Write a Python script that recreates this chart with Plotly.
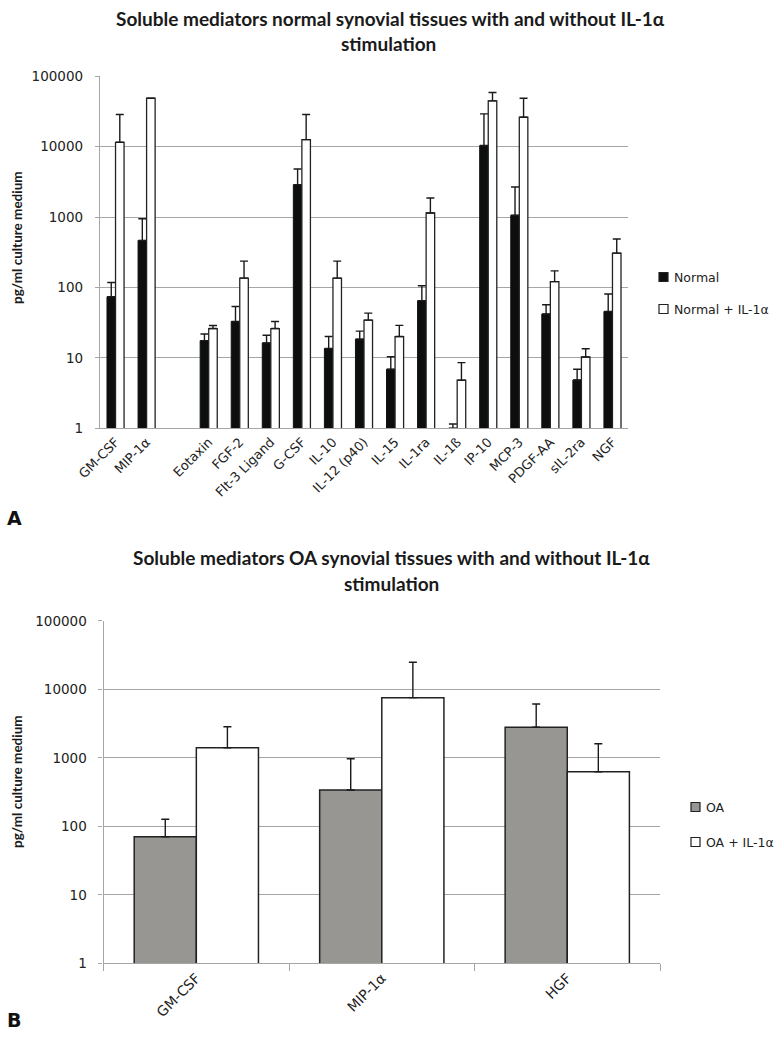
import plotly.graph_objects as go

# ---------------- data ----------------
categories_a = ["GM-CSF", "MIP-1α", " ", "Eotaxin", "FGF-2", "Flt-3 Ligand", "G-CSF",
                "IL-10", "IL-12 (p40)", "IL-15", "IL-1ra", "IL-1ß", "IP-10", "MCP-3",
                "PDGF-AA", "sIL-2ra", "NGF"]
normal = [74, 466, None, 17.6, 32.9, 16.3, 2890, 13.6, 18.5, 6.9, 65, 1.0, 10400, 1060,
          42, 4.85, 45.6]
normal_err_top = [118, 948, None, 21.9, 53.7, 21, 4830, 20.1, 24, 10.4, 106, 1.15, 29300,
                  2680, 57, 6.9, 81]
normal_il1 = [11550, 48800, None, 26.1, 136, 26.1, 12600, 136, 34.4, 20.1, 1143, 4.82,
              44800, 26200, 121, 10.3, 308]
normal_il1_err_top = [28600, 48800, None, 28.8, 237, 32.9, 28600, 237, 43.3, 29, 1870,
                      8.57, 58800, 48800, 172, 13.5, 488]

categories_b = ["GM-CSF", "MIP-1α", "HGF"]
oa = [70.5, 339, 2790]
oa_err_top = [127, 970, 6100]
oa_il1 = [1405, 7550, 627]
oa_il1_err_top = [2845, 24800, 1606]

y_tickvals = [1, 10, 100, 1000, 10000, 100000]
y_ticktext = ["1", "10", "100", "1000", "10000", "100000"]

W, H = 784, 1039


def px(x):
    return x / W


def py(y):
    return 1 - y / H


def plus(vals, tops):
    return [None if v is None else (t - v) for v, t in zip(vals, tops)]


def zeros(vals):
    return [None if v is None else 0 for v in vals]


err_style = dict(color="#1a1a1a", thickness=1.4, width=4)

WA = 0.275   # bar width chart A (fraction of category slot)
WB = 0.335   # bar width chart B

fig = go.Figure()

# ---------------- chart A ----------------
fig.add_trace(go.Bar(
    x=categories_a, y=normal, name="Normal", width=WA, offset=-WA,
    marker=dict(color="#0d0f0f", line=dict(color="#111", width=1)),
    error_y=dict(type="data", symmetric=False, array=plus(normal, normal_err_top),
                 arrayminus=zeros(normal), **err_style),
    xaxis="x", yaxis="y"))
fig.add_trace(go.Bar(
    x=categories_a, y=normal_il1, name="Normal + IL-1α", width=WA, offset=0,
    marker=dict(color="white", line=dict(color="#222", width=1.3)),
    error_y=dict(type="data", symmetric=False, array=plus(normal_il1, normal_il1_err_top),
                 arrayminus=zeros(normal_il1), **err_style),
    xaxis="x", yaxis="y"))

# ---------------- chart B ----------------
fig.add_trace(go.Bar(
    x=categories_b, y=oa, name="OA", width=WB, offset=-WB,
    marker=dict(color="#979692", line=dict(color="#222", width=1.5)),
    error_y=dict(type="data", symmetric=False, array=plus(oa, oa_err_top),
                 arrayminus=zeros(oa), **err_style),
    xaxis="x2", yaxis="y2"))
fig.add_trace(go.Bar(
    x=categories_b, y=oa_il1, name="OA + IL-1α", width=WB, offset=0,
    marker=dict(color="white", line=dict(color="#222", width=1.5)),
    error_y=dict(type="data", symmetric=False, array=plus(oa_il1, oa_il1_err_top),
                 arrayminus=zeros(oa_il1), **err_style),
    xaxis="x2", yaxis="y2"))

yaxis_common = dict(type="log", range=[0, 5], tickvals=y_tickvals, ticktext=y_ticktext,
                    showgrid=True, gridcolor="#a6a6a6", gridwidth=1.3,
                    showline=True, linecolor="#a6a6a6", linewidth=1.3,
                    ticks="outside", ticklen=4, tickcolor="#a6a6a6",
                    ticklabelstandoff=9,
                    tickfont=dict(family="DejaVu Sans", size=13.5, color="#222"),
                    zeroline=False, fixedrange=True, automargin=False)

fig.update_layout(
    width=W, height=H,
    margin=dict(l=0, r=0, t=0, b=0),
    paper_bgcolor="white", plot_bgcolor="white",
    barmode="overlay",
    showlegend=False,
    xaxis=dict(domain=[px(100), px(628)], anchor="y", type="category",
               categoryorder="array", categoryarray=categories_a,
               tickangle=-45, tickfont=dict(family="DejaVu Sans", size=13, color="#222"),
               showline=True, linecolor="#a6a6a6", linewidth=1.3, ticks="",
               showgrid=False, automargin=False, fixedrange=True),
    yaxis=dict(domain=[py(428.3), py(76.3)], anchor="x", **yaxis_common),
    xaxis2=dict(domain=[px(103.6), px(660)], anchor="y2", type="category",
                categoryorder="array", categoryarray=categories_b,
                tickangle=-45, tickfont=dict(family="DejaVu Sans", size=14, color="#222"),
                showline=True, linecolor="#a6a6a6", linewidth=1.3,
                ticks="outside", tickson="boundaries", ticklen=7, tickcolor="#a6a6a6",
                showgrid=False, automargin=False, fixedrange=True),
    yaxis2=dict(domain=[py(963.3), py(620.8)], anchor="x2", **yaxis_common),
)

title_font = dict(family="Lato", size=19, color="#1a1a1a")
legend_font = dict(family="DejaVu Sans", size=12.5, color="#222")
ann = [
    dict(text="<b>Soluble mediators normal synovial tissues with and without IL-1α</b>",
         x=px(390), y=py(18), font=title_font),
    dict(text="<b>stimulation</b>", x=px(388), y=py(44), font=title_font),
    dict(text="<b>Soluble mediators OA synovial tissues with and without IL-1α</b>",
         x=px(391), y=py(557), font=title_font),
    dict(text="<b>stimulation</b>", x=px(391), y=py(583), font=title_font),
    dict(text="<b>pg/ml culture medium</b>", x=px(17), y=py(238), textangle=-90,
         font=dict(family="Lato", size=13.5, color="#1a1a1a")),
    dict(text="<b>pg/ml culture medium</b>", x=px(17), y=py(782), textangle=-90,
         font=dict(family="Lato", size=13.5, color="#1a1a1a")),
    dict(text="<b>A</b>", x=px(14), y=py(518),
         font=dict(family="DejaVu Sans", size=19, color="#111")),
    dict(text="<b>B</b>", x=px(14), y=py(1020),
         font=dict(family="DejaVu Sans", size=19, color="#111")),
    # legends
    dict(text="Normal", x=px(672), y=py(277), xanchor="left", font=legend_font),
    dict(text="Normal + IL-1α", x=px(672), y=py(309), xanchor="left", font=legend_font),
    dict(text="OA", x=px(704), y=py(807), xanchor="left", font=legend_font),
    dict(text="OA + IL-1α", x=px(704), y=py(842), xanchor="left", font=legend_font),
]
for a in ann:
    a.setdefault("xref", "paper")
    a.setdefault("yref", "paper")
    a.setdefault("showarrow", False)
    a.setdefault("yanchor", "middle")
    a.setdefault("xanchor", "center")
fig.update_layout(annotations=ann)


def swatch(x0, yc, fill, size=9):
    return dict(type="rect", xref="paper", yref="paper",
                x0=px(x0), x1=px(x0 + size), y0=py(yc + size / 2), y1=py(yc - size / 2),
                fillcolor=fill, line=dict(color="#222", width=1.2))


fig.update_layout(shapes=[
    swatch(659, 277, "#0d0f0f"),
    swatch(659, 309, "white"),
    swatch(691, 807, "#979692"),
    swatch(691, 842, "white"),
])

fig.write_html("out.html",
               config={"displayModeBar": False},
               post_script="document.body.style.margin='0px';"
                           "document.body.style.overflow='hidden';")
